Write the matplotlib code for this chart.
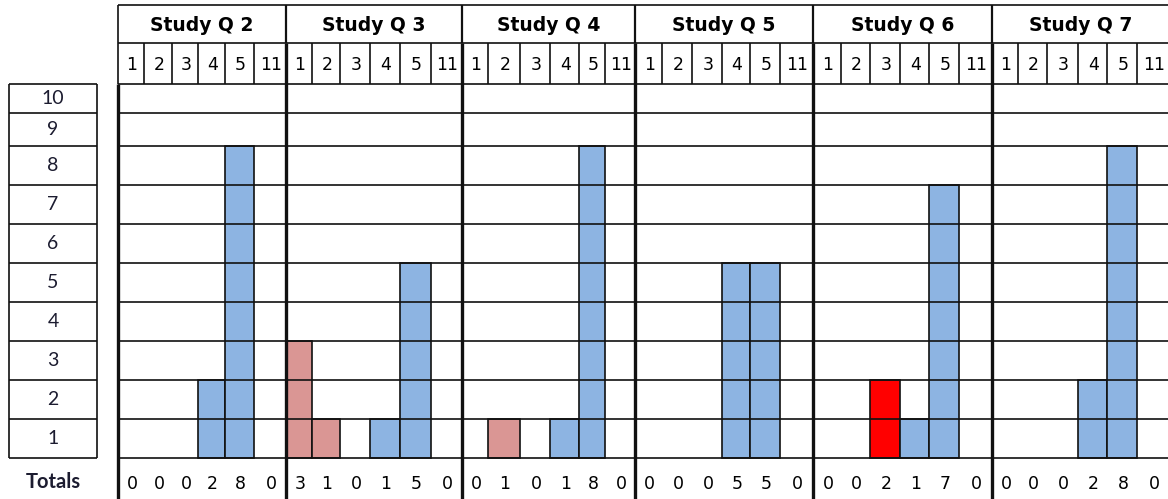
import matplotlib
matplotlib.use("Agg")
import matplotlib.pyplot as plt

# answer counts per study question (answers 1, 2, 3, 4, 5, 11)
questions = ["Study Q 2", "Study Q 3", "Study Q 4", "Study Q 5", "Study Q 6", "Study Q 7"]
answers = ["1", "2", "3", "4", "5", "11"]
row_labels = [str(n) for n in range(1, 11)]

q2_counts = [0, 0, 0, 2, 8, 0]
q3_counts = [3, 1, 0, 1, 5, 0]
q4_counts = [0, 1, 0, 1, 8, 0]
q5_counts = [0, 0, 0, 5, 5, 0]
q6_counts = [0, 0, 2, 1, 7, 0]
q7_counts = [0, 0, 0, 2, 8, 0]
all_counts = [q2_counts, q3_counts, q4_counts, q5_counts, q6_counts, q7_counts]

# fill colour used for each answer column
answer_colors = ["#DA9694", "#DA9694", "#FF0000", "#8DB4E2", "#8DB4E2", "#8DB4E2"]

# sheet layout in pixels
W, H = 1168, 499
col_edges = [
    [118, 144, 172, 198, 225, 254, 286],
    [286, 312, 340, 370, 400, 431, 462],
    [462, 488, 520, 550, 579, 605, 635],
    [635, 662, 692, 722, 750, 780, 813],
    [813, 841, 870, 900, 929, 959, 992],
    [992, 1018, 1047, 1078, 1107, 1137, 1170],
]
# row_edges[k] is the top of row k (row_edges[0] is the bottom of row 1)
row_edges = [458, 419, 380, 341, 302, 263, 224, 185, 146, 113, 84]
title_top, title_bottom = 5, 43
label_left, label_right = 9, 97
grid_left, grid_right = 118, 1170

LINE = "#111111"
thin = 1.2
thick = 2.4

fig = plt.figure(figsize=(W / 100, H / 100), dpi=100)
ax = fig.add_axes([0, 0, 1, 1])
ax.set_xlim(0, W)
ax.set_ylim(H, 0)
ax.axis("off")

# bars: one column per answer, stacked up to the count
for g, counts in enumerate(all_counts):
    edges = col_edges[g]
    for j, v in enumerate(counts):
        if v == 0:
            continue
        ax.bar(edges[j], row_edges[v] - row_edges[0], bottom=row_edges[0],
               width=edges[j + 1] - edges[j], align="edge",
               color=answer_colors[j], edgecolor=LINE, linewidth=thin, zorder=2)

# horizontal grid lines of the body
ax.hlines(row_edges, grid_left, grid_right, color=LINE, linewidth=thin, zorder=3)

# header lines
ax.hlines([title_top, title_bottom], grid_left, grid_right, color=LINE, linewidth=thin, zorder=3)
ax.vlines(grid_left, title_top, row_edges[-1], color=LINE, linewidth=thin, zorder=3)
ax.vlines(grid_left, row_edges[-1], H, color=LINE, linewidth=thick, zorder=4)
for g, edges in enumerate(col_edges):
    # thin separators between answer numbers
    ax.vlines(edges[1:-1], title_bottom, row_edges[-1], color=LINE, linewidth=thin, zorder=3)
    if g < len(col_edges) - 1:
        ax.vlines(edges[-1], title_top, title_bottom, color=LINE, linewidth=1.6, zorder=3)
        ax.vlines(edges[-1], title_bottom, H, color=LINE, linewidth=thick, zorder=4)

    mid = (edges[0] + edges[-1]) / 2
    ax.text(mid, (title_top + title_bottom) / 2 + 1, questions[g], ha="center", va="center",
            fontsize=13.5, fontweight="bold", family="DejaVu Sans", color="black")
    for j, a in enumerate(answers):
        cx = (edges[j] + edges[j + 1]) / 2 + 1
        ax.text(cx, (title_bottom + row_edges[-1]) / 2 + 1, a, ha="center", va="center",
                fontsize=12.5, family="DejaVu Sans", color="black")
        ax.text(cx, 484, str(all_counts[g][j]), ha="center", va="center",
                fontsize=12.5, family="DejaVu Sans", color="black")

# row label boxes on the left
ax.hlines(row_edges, label_left, label_right, color=LINE, linewidth=thin, zorder=3)
ax.vlines([label_left, label_right], row_edges[-1], row_edges[0], color=LINE, linewidth=thin, zorder=3)
for k, lab in enumerate(row_labels, start=1):
    cy = (row_edges[k] + row_edges[k - 1]) / 2
    ax.text((label_left + label_right) / 2, cy, lab, ha="center", va="center",
            fontsize=14, family="Lato", color="#1c1c30")

ax.text((label_left + label_right) / 2, 482, "Totals", ha="center", va="center",
        fontsize=14.5, fontweight="bold", family="Lato", color="#1c1c30")

fig.savefig("out.png", dpi=100)
